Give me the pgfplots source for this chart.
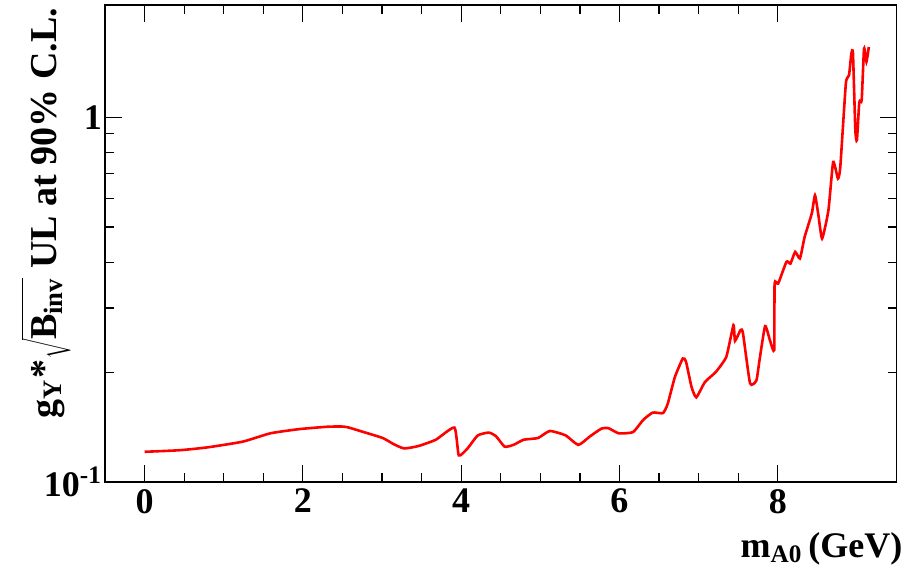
\documentclass[border=0pt]{standalone}
\usepackage{fontspec}
\setmainfont{Liberation Serif}
\usepackage{pgfplots}
\pgfplotsset{compat=1.18}

% upper limit vs mass
\pgfplotstableread{
m      ul
0.00   0.1210
0.44   0.1222
0.79   0.1244
1.24   0.1290
1.59   0.1360
1.95   0.1396
2.30   0.1417
2.48   0.1420
2.57   0.1412
2.79   0.1366
3.01   0.1320
3.15   0.1269
3.28   0.1236
3.46   0.1255
3.68   0.1306
3.915  0.1410
3.97   0.1183
4.08   0.1236
4.21   0.1342
4.35   0.1366
4.44   0.1335
4.55   0.1250
4.66   0.1264
4.79   0.1306
4.97   0.1320
5.12   0.1380
5.32   0.1342
5.48   0.1264
5.63   0.1335
5.77   0.1400
5.86   0.1405
5.99   0.1360
6.17   0.1370
6.30   0.1480
6.42   0.1550
6.55   0.1545
6.61   0.1640
6.70   0.1940
6.80   0.2180
6.84   0.2140
6.91   0.1824
6.97   0.1706
7.08   0.1880
7.22   0.2006
7.35   0.2205
7.44   0.2690
7.46   0.2438
7.53   0.2610
7.56   0.2560
7.65   0.1864
7.73   0.1900
7.77   0.2163
7.84   0.2676
7.90   0.2450
7.955  0.2300
7.96   0.3500
8.005  0.3500
8.11   0.4016
8.16   0.3970
8.22   0.4275
8.28   0.4100
8.34   0.4700
8.43   0.5450
8.47   0.6110
8.51   0.5450
8.56   0.4650
8.64   0.5560
8.70   0.7540
8.76   0.6790
8.79   0.7310
8.86   1.2360
8.90   1.3030
8.93   1.4950
8.95   1.4950
8.98   0.9210
9.00   0.8650
9.03   1.1000
9.06   1.1130
9.09   1.5430
9.12   1.4180
9.15   1.5580
}\limits

\begin{document}
\begin{tikzpicture}
\useasboundingbox (-52.5pt,-46pt) rectangle (401pt,241pt);
\begin{axis}[
    at={(0,0)}, anchor=south west,
    scale only axis,
    width=395.75pt, height=238.5pt,
    xmin=-0.5, xmax=9.5,
    ymode=log, ymin=0.1, ymax=2.03,
    xtick={0,2,4,6,8},
    minor x tick num=3,
    ytick={0.1,1},
    yticklabels={10\textsuperscript{-1},1},
    minor ytick={0.2,0.3,0.4,0.5,0.6,0.7,0.8,0.9},
    tick align=inside,
    major tick length=8.5pt,
    minor tick length=4.5pt,
    tick style={black, line width=0.6pt},
    axis line style={line width=0.8pt},
    ticklabel style={font=\fontsize{18}{21}\selectfont\bfseries},
    /pgf/number format/assume math mode=true,
    yticklabel style={xshift=2pt},
    clip=false,
]
\addplot[red, line width=1.3pt, smooth, tension=0.3] table[x=m, y=ul] {\limits};
\node[anchor=base east, inner sep=0pt, font=\fontsize{18}{21}\selectfont\bfseries]
    at (axis description cs:1.008,-0.158) {m\textsubscript{A0}\,(GeV)};
\node[anchor=base east, inner sep=0pt, rotate=90, font=\fontsize{19}{22}\selectfont\bfseries]
    at (axis description cs:-0.0619,0.995) {g\textsubscript{Y}*$\sqrt{\vphantom{\Big(}\mbox{B\textsubscript{inv}}}$ UL at 90\% C.L.};
\end{axis}
\end{tikzpicture}
\end{document}
